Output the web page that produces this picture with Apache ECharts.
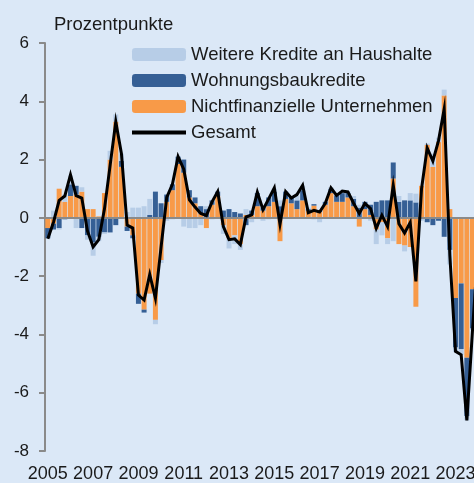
<!DOCTYPE html>
<html>
<head>
<meta charset="utf-8">
<script src="https://cdn.jsdelivr.net/npm/echarts@6/dist/echarts.min.js"></script>
<style>
	html, body { margin: 0; padding: 0; background: #dbe8f7; overflow: hidden; }
	/* the plot runs a few pixels past the right edge, like the original */
	#chart { width: 481px; height: 483px; }
</style>
</head>
<body>
<div id="chart"></div>
<script>
// Quartale 2005Q1 - 2024Q1
const quarters = []
for (let y = 2005; y <= 2024; y++) {
	for (let q = 1; q <= 4; q++) {
		if (y === 2024 && q > 1) break
		quarters.push(y + 'Q' + q)
	}
}

const nfu = [-0.35, -0.2, 1.0, 0.55, 0.75, 0.8, 0.9, 0.3, 0.3, 0.05, 0.85, 2.0, 3.3, 1.75, -0.3, -0.6,
	-2.6, -3.15, -2.6, -3.5, -1.45, 0.55, 0.95, 1.85, 1.55, 0.7, 0.5, 0.15, -0.35, 0.45, 0.75, -0.25,
	-0.7, -0.6, -0.9, 0.1, 0.1, 0.4, 0.25, 0.4, 0.55, -0.8, 0.65, 0.5, 0.3, 0.6, 0.25, 0.42,
	0.2, 0.45, 0.85, 0.55, 0.55, 0.7, 0.4, -0.3, 0.3, 0.1, -0.4, -0.15, -0.7, 1.35, -0.9, -0.95,
	-1.0, -3.05, 1.1, 2.5, 1.75, 2.6, 4.2, 0.3, -2.75, -2.25, -4.8, -2.45, -0.6]

const wohnbau = [-0.35, -0.2, -0.35, -0.05, 0.4, 0.3, -0.35, -0.6, -0.85, -0.65, -0.5, -0.5, -0.25, 0.2, -0.15, -0.1,
	-0.35, -0.1, 0.1, 0.9, 0.5, 0.25, 0.2, 0.25, 0.45, 0.25, 0.2, 0.25, 0.3, 0.15, 0.15, 0.25,
	0.3, 0.2, 0.15, -0.25, 0.15, 0.45, 0.1, 0.3, 0.35, 0.4, 0.25, 0.2, 0.3, 0.35, 0.05, 0.05,
	0.05, 0.1, 0.15, 0.22, 0.3, 0.15, 0.25, 0.35, 0.25, 0.35, 0.55, 0.6, 0.6, 0.55, 0.55, 0.6,
	0.6, 0.53, -0.05, -0.15, -0.25, -0.1, -0.65, -1.1, -1.7, -2.25, -2.0, -1.35, -0.3]

const weitere = [0.0, 0.25, -0.05, 0.25, 0.3, -0.35, 0.15, -0.15, -0.45, -0.15, -0.05, 0.3, 0.25, 0.25, 0.2, 0.35,
	0.35, 0.4, 0.55, -0.15, -0.1, -0.1, -0.05, 0.0, -0.3, -0.35, -0.35, -0.25, 0.1, -0.05, 0.0, -0.3,
	-0.35, -0.3, -0.2, 0.2, -0.15, 0.0, -0.1, -0.05, 0.1, 0.2, 0.0, 0.0, 0.15, 0.15, 0.05, -0.05,
	-0.15, 0.0, 0.05, 0.0, 0.05, 0.05, 0.1, 0.1, 0.0, -0.1, -0.5, -0.45, -0.2, -0.8, 0.2, -0.2,
	0.25, 0.3, -0.05, 0.05, 0.45, 0.15, 0.2, -0.5, -0.15, -0.2, -0.15, -0.05, -0.1]

const gesamt = [-0.72, -0.15, 0.6, 0.75, 1.48, 0.76, 0.68, -0.45, -1.0, -0.75, 0.3, 1.8, 3.3, 2.2, -0.25, -0.35,
	-2.65, -2.82, -1.94, -2.76, -1.0, 0.7, 1.15, 2.1, 1.67, 0.62, 0.37, 0.15, 0.08, 0.55, 0.9, -0.3,
	-0.75, -0.72, -0.92, 0.03, 0.1, 0.88, 0.28, 0.65, 1.03, -0.22, 0.9, 0.68, 0.8, 1.12, 0.18, 0.26,
	0.2, 0.5, 1.03, 0.77, 0.92, 0.89, 0.5, 0.15, 0.5, 0.32, -0.36, 0.09, -0.3, 1.12, -0.2, -0.52,
	-0.16, -2.18, 1.0, 2.4, 1.95, 2.65, 3.74, -1.3, -4.58, -4.7, -6.95, -3.85, -1.0]

const yTicks = { min: -8, max: 6, interval: 2 }

const names = ['Weitere Kredite an Haushalte', 'Wohnungsbaukredite', 'Nichtfinanzielle Unternehmen', 'Gesamt']
const font = 'Liberation Sans, Arial, sans-serif'
const textColor = '#1a1a1a'
const axisColor = '#8a8a8a'

const chart = echarts.init(document.getElementById('chart'))

chart.setOption({
	backgroundColor: '#dbe8f7',
	animation: false,
	textStyle: { fontFamily: font },
	title: {
		text: 'Prozentpunkte',
		left: 49,
		top: 10,
		textStyle: { fontSize: 18.5, fontWeight: 'normal', color: textColor, fontFamily: font }
	},
	legend: {
		data: [
			names[0],
			names[1],
			names[2],
			{ name: names[3], itemStyle: { opacity: 0 }, lineStyle: { width: 4, color: '#000' } }
		],
		orient: 'vertical',
		left: 130,
		top: 45,
		padding: 0,
		itemWidth: 54,
		itemHeight: 13,
		itemGap: 7,
		textStyle: { fontSize: 18.5, color: textColor, fontFamily: font }
	},
	grid: {
		left: 45,
		right: 0,
		top: 43,
		bottom: 29
	},
	xAxis: [
		{
			// Beschriftung unten
			type: 'category',
			data: quarters,
			position: 'bottom',
			axisLine: { show: false, onZero: false },
			axisTick: { show: false },
			axisLabel: {
				interval: 7,
				margin: 14,
				fontSize: 18,
				color: textColor,
				fontFamily: font,
				formatter: v => v.slice(0, 4)
			}
		},
		{
			// Nulllinie mit Ticks
			type: 'category',
			data: quarters,
			position: 'bottom',
			z: 3,
			axisLine: { onZero: true, lineStyle: { color: axisColor, width: 2 } },
			axisTick: { interval: 7, length: 5, lineStyle: { color: axisColor, width: 2 } },
			axisLabel: { show: false }
		}
	],
	yAxis: {
		type: 'value',
		min: yTicks.min,
		max: yTicks.max,
		interval: yTicks.interval,
		axisLine: { show: true, lineStyle: { color: axisColor, width: 2 } },
		axisTick: { show: true, length: 6, lineStyle: { color: axisColor, width: 2 } },
		splitLine: { show: false },
		axisLabel: { margin: 16, fontSize: 17, color: textColor, fontFamily: font }
	},
	series: [
		{
			name: names[2],
			type: 'bar',
			stack: 'k',
			data: nfu,
			barCategoryGap: '12%',
			itemStyle: { color: '#f89a48' }
		},
		{
			name: names[1],
			type: 'bar',
			stack: 'k',
			data: wohnbau,
			itemStyle: { color: '#355f95' }
		},
		{
			name: names[0],
			type: 'bar',
			stack: 'k',
			data: weitere,
			itemStyle: { color: '#b7cde7' }
		},
		{
			name: names[3],
			type: 'line',
			data: gesamt,
			symbol: 'none',
			z: 5,
			lineStyle: { color: '#000', width: 3, join: 'miter' },
			itemStyle: { color: '#000' }
		}
	]
})
</script>
</body>
</html>
